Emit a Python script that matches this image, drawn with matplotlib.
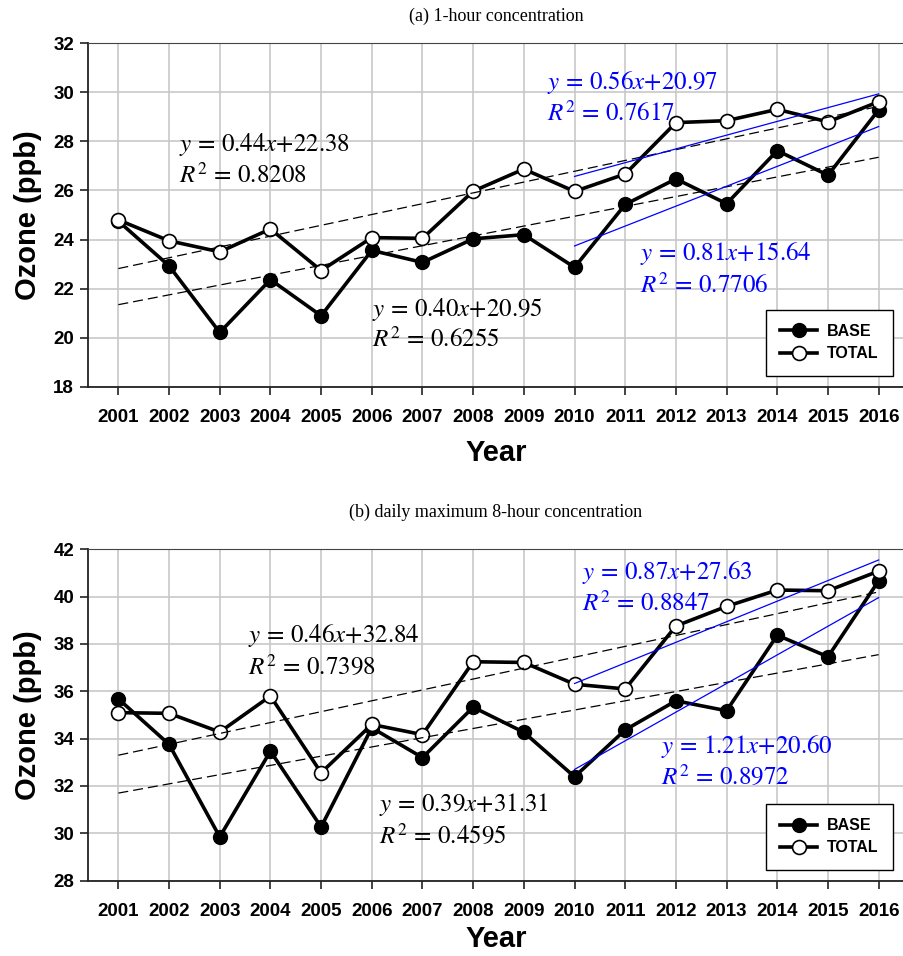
import matplotlib
matplotlib.use('Agg')
import matplotlib.pyplot as plt
import numpy as np

plt.rcParams['mathtext.fontset'] = 'stix'

# Annual mean ozone (ppb)
years = list(range(2001, 2017))
base_1h = [24.75, 22.93, 20.22, 22.37, 20.90, 23.56, 23.07, 24.03, 24.20, 22.87, 25.43, 26.47, 25.46, 27.62, 26.62, 29.28]
total_1h = [24.80, 23.95, 23.50, 24.43, 22.74, 24.08, 24.05, 25.97, 26.87, 25.96, 26.67, 28.76, 28.84, 29.30, 28.79, 29.61]
base_8h = [35.68, 33.76, 29.85, 33.47, 30.27, 34.46, 33.20, 35.33, 34.27, 32.39, 34.37, 35.60, 35.18, 38.37, 37.46, 40.67]
total_8h = [35.10, 35.07, 34.28, 35.80, 32.56, 34.60, 34.17, 37.25, 37.22, 36.30, 36.10, 38.76, 39.59, 40.28, 40.25, 41.08]

# Trend lines (slope, intercept, R2), x = 1..16 for year index
fit_1h_total_all = (0.44, 22.38, 0.8208)
fit_1h_base_all = (0.40, 20.95, 0.6255)
fit_1h_total_rec = (0.56, 20.97, 0.7617)
fit_1h_base_rec = (0.81, 15.64, 0.7706)
fit_8h_total_all = (0.46, 32.84, 0.7398)
fit_8h_base_all = (0.39, 31.31, 0.4595)
fit_8h_total_rec = (0.87, 27.63, 0.8847)
fit_8h_base_rec = (1.21, 20.60, 0.8972)

titles = ['(a) 1-hour concentration', '(b) daily maximum 8-hour concentration']
ylims = [(18, 32), (28, 42)]

fig = plt.figure(figsize=(9.04, 9.56), dpi=100)
ax1 = fig.add_axes([0.0973, 0.5952, 0.9027, 0.3598])
ax2 = fig.add_axes([0.0973, 0.0788, 0.9027, 0.3466])

sans = 'Liberation Sans'
serif = 'Liberation Serif'


def fit_line(ax, fit, start, color, ls, lw):
    idx = np.arange(start, 17)
    yv = fit[0] * idx + fit[1]
    ax.plot(np.array(years)[idx - 1], yv, color=color, ls=ls, lw=lw, zorder=4,
            dashes=(8, 4) if ls == '--' else (None, None))


def label(ax, fit, x, y1, y2, color):
    ax.text(x, y1, r'$y\,=\,%.2fx{+}%.2f$' % (fit[0], fit[1]), color=color,
            fontsize=18, va='center', ha='left', zorder=6)
    ax.text(x, y2, r'$R^2\,=\,%.4f$' % fit[2], color=color,
            fontsize=18, va='center', ha='left', zorder=6)


def setup(ax, title, ylim, tpad, xpad):
    ax.set_xlim(2000.4, 2016.5)
    ax.set_ylim(*ylim)
    ax.set_xticks(years)
    ax.set_yticks(np.arange(ylim[0], ylim[1] + 1, 2))
    ax.grid(True, color='#c8c8c8', lw=1.2, zorder=0)
    ax.set_axisbelow(True)
    for lab in ax.get_xticklabels() + ax.get_yticklabels():
        lab.set_fontfamily(sans)
        lab.set_fontweight('bold')
        lab.set_fontsize(13.5)
    ax.tick_params(axis='both', direction='out', length=6, width=1.2, color='#222222')
    ax.tick_params(axis='x', pad=10)
    ax.tick_params(axis='y', pad=4)
    ax.spines['right'].set_visible(False)
    ax.spines['top'].set_color('#444444')
    for s in ['left', 'bottom']:
        ax.spines[s].set_color('#222222')
        ax.spines[s].set_linewidth(1.3)
    ax.set_ylabel('Ozone (ppb)', fontfamily=sans, fontweight='bold', fontsize=21, labelpad=8)
    ax.set_xlabel('Year', fontfamily=sans, fontweight='bold', fontsize=21, labelpad=xpad)
    ax.set_title(title, fontfamily=serif, fontsize=13, pad=tpad)


for ax, base, total, title, ylim, tpad, xpad in [
        (ax1, base_1h, total_1h, titles[0], ylims[0], 16, 9),
        (ax2, base_8h, total_8h, titles[1], ylims[1], 23, 4)]:
    setup(ax, title, ylim, tpad, xpad)
    ax.plot(years, base, color='black', lw=2.6, marker='o', ms=10,
            mfc='black', mec='black', label='BASE', zorder=3)
    ax.plot(years, total, color='black', lw=2.6, marker='o', ms=10,
            mfc='white', mec='black', mew=1.2, label='TOTAL', zorder=3)
    leg = ax.legend(loc='lower right', bbox_to_anchor=(0.986, 0.033), borderaxespad=0,
                    fancybox=False, edgecolor='black', framealpha=1, handlelength=2.3,
                    borderpad=0.9, labelspacing=0.45, handletextpad=0.6,
                    prop={'family': sans, 'weight': 'bold', 'size': 11.5})
    leg.get_frame().set_linewidth(1.0)
    leg.set_zorder(7)

fit_line(ax1, fit_1h_total_all, 1, 'black', '--', 0.9)
fit_line(ax1, fit_1h_base_all, 1, 'black', '--', 0.9)
fit_line(ax1, fit_1h_total_rec, 10, 'blue', '-', 0.9)
fit_line(ax1, fit_1h_base_rec, 10, 'blue', '-', 0.9)
fit_line(ax2, fit_8h_total_all, 1, 'black', '--', 0.9)
fit_line(ax2, fit_8h_base_all, 1, 'black', '--', 0.9)
fit_line(ax2, fit_8h_total_rec, 10, 'blue', '-', 0.9)
fit_line(ax2, fit_8h_base_rec, 10, 'blue', '-', 0.9)

label(ax1, fit_1h_total_all, 2002.2, 27.85, 26.6, 'black')
label(ax1, fit_1h_base_all, 2006.0, 21.15, 19.95, 'black')
label(ax1, fit_1h_total_rec, 2009.45, 30.4, 29.15, 'blue')
label(ax1, fit_1h_base_rec, 2011.3, 23.45, 22.15, 'blue')
label(ax2, fit_8h_total_all, 2003.55, 38.35, 37.05, 'black')
label(ax2, fit_8h_base_all, 2006.15, 31.2, 29.9, 'black')
label(ax2, fit_8h_total_rec, 2010.15, 41.0, 39.7, 'blue')
label(ax2, fit_8h_base_rec, 2011.7, 33.65, 32.4, 'blue')

fig.savefig('out.png', dpi=100)
